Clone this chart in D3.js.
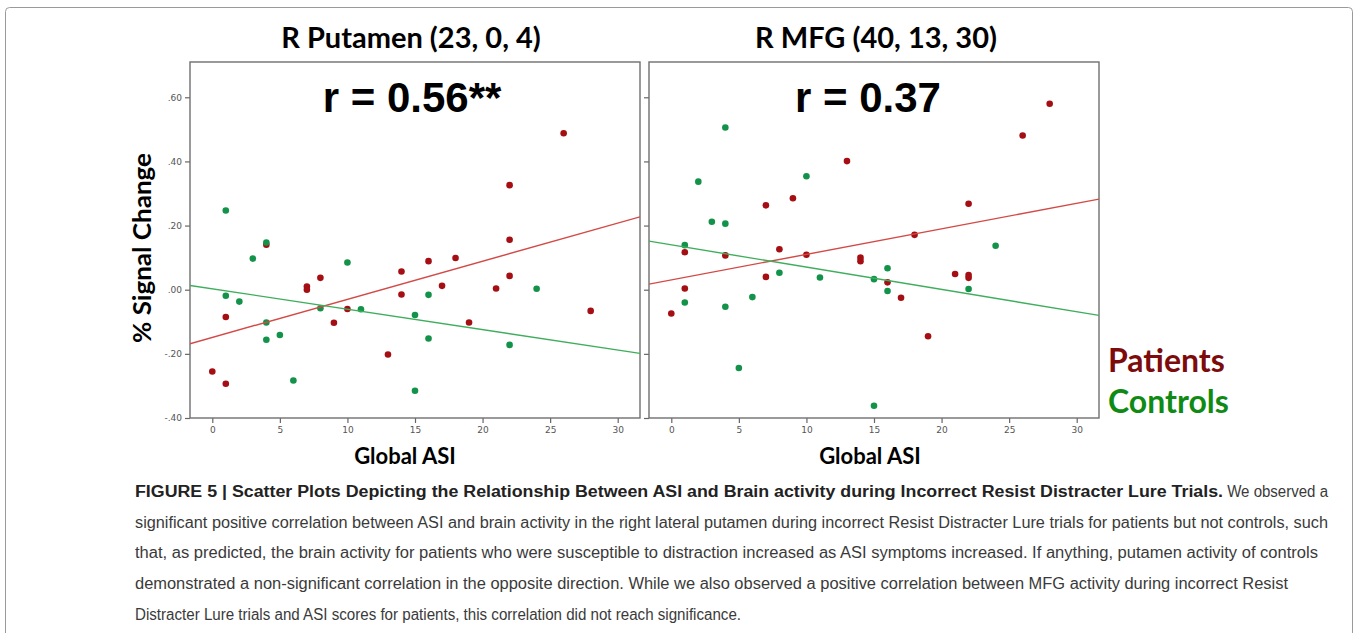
<!DOCTYPE html>
<html lang="en">
<head>
    <meta charset="UTF-8">
    <title>Figure 5 - ASI vs Brain activity</title>
    <script src="https://cdnjs.cloudflare.com/ajax/libs/d3/7.8.5/d3.min.js"></script>
    <style>
        body {
            margin: 0;
            background: #fff;
            overflow: hidden;
        }
    </style>
</head>
<body>
    <script>
        // data
        const asiPatients = [0, 1, 1, 4, 7, 7, 8, 9, 10, 13, 14, 14, 16, 17, 18, 19, 21, 22, 22, 22, 26, 28];
        const asiControls = [1, 1, 2, 3, 4, 4, 4, 5, 6, 8, 10, 11, 15, 15, 16, 16, 22, 24];

        const putamenPatients = [-0.255, -0.085, -0.293, 0.14, 0.01, 0.0, 0.037, -0.103, -0.06, -0.202, 0.057,
            -0.015, 0.089, 0.012, 0.099, -0.102, 0.004, 0.326, 0.156, 0.043, 0.488, -0.066];
        const putamenControls = [0.247, -0.019, -0.037, 0.097, 0.147, -0.102, -0.156, -0.141, -0.283, -0.058,
            0.085, -0.061, -0.079, -0.315, -0.016, -0.152, -0.172, 0.003];

        const mfgPatients = [-0.074, 0.117, 0.004, 0.107, 0.263, 0.040, 0.126, 0.285, 0.109, 0.401, 0.100,
            0.089, 0.023, -0.025, 0.171, -0.145, 0.049, 0.268, 0.046, 0.037, 0.481, 0.580];
        const mfgControls = [0.139, -0.040, 0.337, 0.212, 0.506, 0.206, -0.053, -0.244, -0.023, 0.053,
            0.354, 0.038, 0.033, -0.362, 0.067, -0.004, 0.002, 0.137];

        const panelTitles = ['R Putamen (23, 0, 4)', 'R MFG (40, 13, 30)'];
        const rLabels = ['r = 0.56**', 'r = 0.37'];
        const xTicks = [0, 5, 10, 15, 20, 25, 30];
        const yTicks = [-0.4, -0.2, 0, 0.2, 0.4, 0.6];
        const yTickLabels = ['-.40', '-.20', '.00', '.20', '.40', '.60'];
        const groupNames = ['Patients', 'Controls'];

        const captionLines = [
            [['FIGURE 5 | Scatter Plots Depicting the Relationship Between ASI and Brain activity during Incorrect Resist Distracter Lure Trials.', true], [' We observed a', false]],
            [['significant positive correlation between ASI and brain activity in the right lateral putamen during incorrect Resist Distracter Lure trials for patients but not controls, such', false]],
            [['that, as predicted, the brain activity for patients who were susceptible to distraction increased as ASI symptoms increased. If anything, putamen activity of controls', false]],
            [['demonstrated a non-significant correlation in the opposite direction. While we also observed a positive correlation between MFG activity during incorrect Resist', false]],
            [['Distracter Lure trials and ASI scores for patients, this correlation did not reach significance.', false]]
        ];
        // widths of each caption run as measured on the figure
        const captionWidths = [[1088, 105], [1193], [1183], [1153], [606]];

        const width = 1357;
        const height = 633;
        const dotRed = '#a50e12';
        const dotGreen = '#13924a';
        const lineRed = '#d24a46';
        const lineGreen = '#3fae5c';

        const svg = d3.select('body')
            .append('svg')
            .attr('width', width)
            .attr('height', height);

        // outer figure border
        svg.append('rect')
            .attr('x', 5.5).attr('y', 7.5)
            .attr('width', 1347).attr('height', 640)
            .attr('rx', 4)
            .attr('fill', 'none')
            .attr('stroke', '#9a9a9a');

        const panels = [
            { left: 190, patients: putamenPatients, controls: putamenControls, showYLabels: true, titleDx: -4, rDx: -3, xLabDx: -10 },
            { left: 649, patients: mfgPatients, controls: mfgControls, showYLabels: false, titleDx: 2, rDx: -6, xLabDx: -4 }
        ];
        const panelW = 450, plotTop = 62, plotBottom = 418;

        function fit(xs, ys) {
            const mx = d3.mean(xs), my = d3.mean(ys);
            const sxy = d3.sum(xs, (x, i) => (x - mx) * (ys[i] - my));
            const sxx = d3.sum(xs, x => (x - mx) * (x - mx));
            const b = sxy / sxx;
            return { a: my - b * mx, b: b };
        }

        panels.forEach((p, k) => {
            const x = d3.scaleLinear().domain([-1.65, 31.65]).range([p.left, p.left + panelW]);
            const y = d3.scaleLinear().domain([-0.4, 0.71]).range([plotBottom, plotTop]);
            const g = svg.append('g');

            g.append('clipPath').attr('id', 'clip' + k)
                .append('rect')
                .attr('x', p.left).attr('y', plotTop)
                .attr('width', panelW).attr('height', plotBottom - plotTop);

            // axes
            const yAxis = d3.axisLeft(y)
                .tickValues(yTicks)
                .tickSize(5)
                .tickPadding(3)
                .tickFormat((d, i) => p.showYLabels ? yTickLabels[i] : '');
            const ya = g.append('g').attr('transform', `translate(${p.left},0)`).call(yAxis);

            const xAxis = d3.axisBottom(x)
                .tickValues(xTicks)
                .tickSize(5)
                .tickPadding(4);
            const xa = g.append('g').attr('transform', `translate(0,${plotBottom})`).call(xAxis);

            [ya, xa].forEach(a => {
                a.select('.domain').remove();
                a.selectAll('line').attr('stroke', '#666').attr('stroke-width', 1.2);
                a.selectAll('text')
                    .attr('fill', '#555')
                    .style('font-family', '"DejaVu Sans", sans-serif')
                    .style('font-size', '9px');
            });

            // frame
            g.append('rect')
                .attr('x', p.left).attr('y', plotTop)
                .attr('width', panelW).attr('height', plotBottom - plotTop)
                .attr('fill', 'none')
                .attr('stroke', '#6f6f6f')
                .attr('stroke-width', 1.4);

            const plot = g.append('g').attr('clip-path', `url(#clip${k})`);

            const groups = [
                { xs: asiPatients, ys: p.patients, dot: dotRed, line: lineRed },
                { xs: asiControls, ys: p.controls, dot: dotGreen, line: lineGreen }
            ];

            // points
            groups.forEach(gr => {
                plot.selectAll(null)
                    .data(gr.xs.map((v, i) => [v, gr.ys[i]]))
                    .enter()
                    .append('circle')
                    .attr('cx', d => x(d[0]))
                    .attr('cy', d => y(d[1]))
                    .attr('r', 3.3)
                    .attr('fill', gr.dot);
            });

            // regression lines (least squares on each group)
            groups.forEach(gr => {
                const f = fit(gr.xs, gr.ys);
                const xd = x.domain();
                plot.append('line')
                    .attr('x1', x(xd[0])).attr('y1', y(f.a + f.b * xd[0]))
                    .attr('x2', x(xd[1])).attr('y2', y(f.a + f.b * xd[1]))
                    .attr('stroke', gr.line)
                    .attr('stroke-width', 1.4);
            });

            // titles
            svg.append('text')
                .attr('x', p.left + panelW / 2 + p.titleDx)
                .attr('y', 48)
                .attr('text-anchor', 'middle')
                .style('font-family', 'Lato, sans-serif')
                .style('font-weight', 'bold')
                .style('font-size', '29px')
                .attr('fill', '#000')
                .text(panelTitles[k]);

            svg.append('text')
                .attr('x', p.left + panelW / 2 + p.rDx)
                .attr('y', 112)
                .attr('text-anchor', 'middle')
                .style('font-family', '"Liberation Sans", Arial, sans-serif')
                .style('font-weight', 'bold')
                .style('font-size', '42px')
                .attr('fill', '#000')
                .text(rLabels[k]);

            svg.append('text')
                .attr('x', p.left + panelW / 2 + p.xLabDx)
                .attr('y', 464)
                .attr('text-anchor', 'middle')
                .style('font-family', 'Lato, sans-serif')
                .style('font-weight', 'bold')
                .style('font-size', '22px')
                .attr('fill', '#000')
                .text('Global ASI');
        });

        // y axis label
        svg.append('text')
            .attr('transform', 'translate(151,248) rotate(-90)')
            .attr('text-anchor', 'middle')
            .style('font-family', 'Lato, sans-serif')
            .style('font-weight', 'bold')
            .style('font-size', '24px')
            .attr('textLength', 190)
            .attr('lengthAdjust', 'spacingAndGlyphs')
            .attr('fill', '#000')
            .text('% Signal Change');

        // legend
        const legendColors = ['#7d0b0b', '#0f8a14'];
        svg.selectAll('.legend')
            .data(groupNames)
            .enter()
            .append('text')
            .attr('class', 'legend')
            .attr('x', 1108)
            .attr('y', (d, i) => 372 + i * 41)
            .style('font-family', 'Lato, sans-serif')
            .style('font-weight', 'bold')
            .style('font-size', '32px')
            .attr('fill', (d, i) => legendColors[i])
            .text(d => d);

        // caption
        const cap = svg.append('g');
        captionLines.forEach((parts, i) => {
            const t = cap.append('text')
                .attr('x', 135)
                .attr('y', 497 + i * 30.7)
                .style('font-family', '"Liberation Sans", Arial, sans-serif')
                .style('font-size', '16px');
            parts.forEach((pt, j) => {
                t.append('tspan')
                    .style('font-weight', pt[1] ? 'bold' : 'normal')
                    .attr('fill', pt[1] ? '#222' : '#3a3a3a')
                    .attr('textLength', captionWidths[i][j])
                    .attr('lengthAdjust', 'spacingAndGlyphs')
                    .text(pt[0]);
            });
        });
    </script>
</body>
</html>
